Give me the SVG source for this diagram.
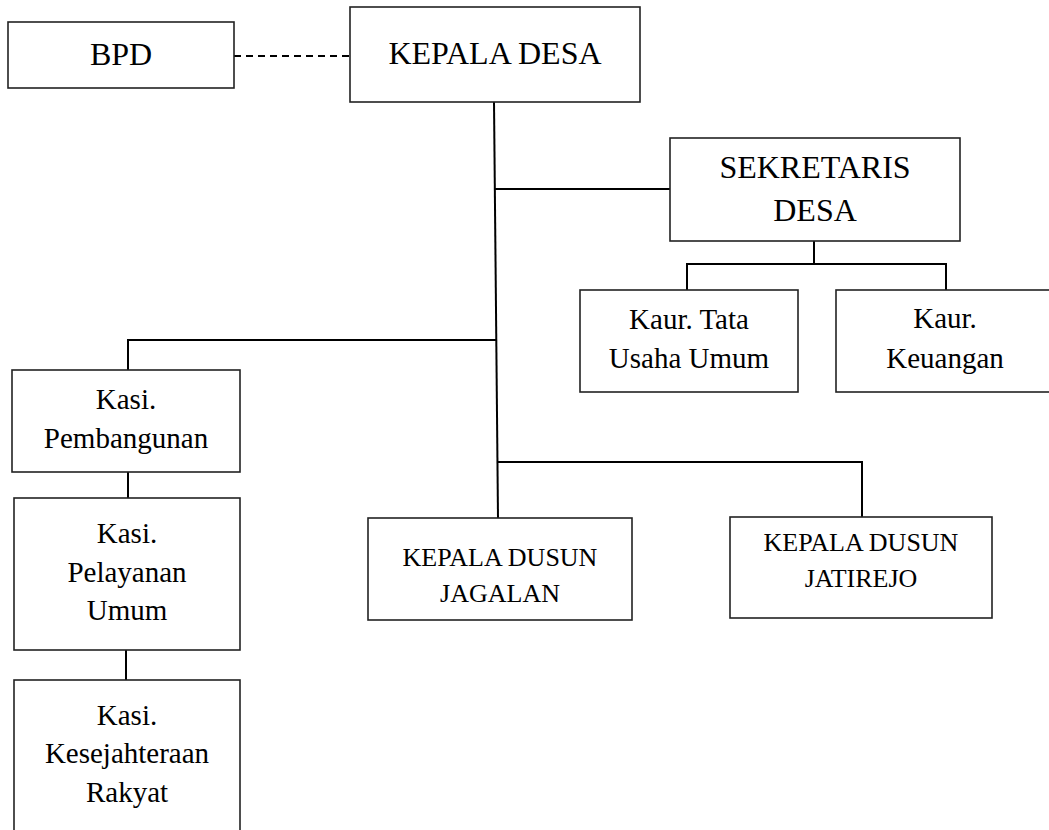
<svg xmlns="http://www.w3.org/2000/svg" width="1049" height="830" viewBox="0 0 1049 830">
<style>
.box{fill:#fff;stroke:#222;stroke-width:1.6}
.t{font-family:"Liberation Serif","Times New Roman",serif;fill:#000;text-anchor:middle}
.l{font-size:32px}
.m{font-size:29px}
.s{font-size:26px}
.c{stroke:#000;stroke-width:2;fill:none}
.d{stroke:#000;stroke-width:2;fill:none;stroke-dasharray:7 5}
</style>
<rect width="1049" height="830" fill="#fff"/>
<g id="connectors">
<line class="d" x1="234" y1="56" x2="350" y2="56"/>
<line class="c" x1="494" y1="102" x2="498" y2="518"/>
<line class="c" x1="495" y1="189" x2="670" y2="189"/>
<polyline class="c" points="814,241 814,264"/>
<polyline class="c" points="687,290 687,264 946,264 946,290"/>
<polyline class="c" points="128,370 128,340 497,340"/>
<line class="c" x1="128" y1="472" x2="128" y2="498"/>
<line class="c" x1="126" y1="650" x2="126" y2="680"/>
<polyline class="c" points="497,462 862,462 862,517"/>
</g>
<g id="bpd"><rect class="box" x="8" y="22" width="226" height="66"/><text class="t l" x="121" y="65">BPD</text></g>
<g id="kepala-desa"><rect class="box" x="350" y="7" width="290" height="95"/><text class="t l" x="495" y="64">KEPALA DESA</text></g>
<g id="sekretaris-desa"><rect class="box" x="670" y="138" width="290" height="103"/><text class="t l" x="815" y="178">SEKRETARIS</text><text class="t l" x="815" y="221">DESA</text></g>
<g id="kaur-tata-usaha"><rect class="box" x="580" y="290" width="218" height="102"/><text class="t m" x="689" y="329">Kaur. Tata</text><text class="t m" x="689" y="368">Usaha Umum</text></g>
<g id="kaur-keuangan"><rect class="box" x="836" y="290" width="230" height="102"/><text class="t m" x="945" y="328">Kaur.</text><text class="t m" x="945" y="368">Keuangan</text></g>
<g id="kasi-pembangunan"><rect class="box" x="12" y="370" width="228" height="102"/><text class="t m" x="126" y="409">Kasi.</text><text class="t m" x="126" y="448">Pembangunan</text></g>
<g id="kasi-pelayanan"><rect class="box" x="14" y="498" width="226" height="152"/><text class="t m" x="127" y="543">Kasi.</text><text class="t m" x="127" y="582">Pelayanan</text><text class="t m" x="127" y="620">Umum</text></g>
<g id="kasi-kesejahteraan"><rect class="box" x="14" y="680" width="226" height="170"/><text class="t m" x="127" y="725">Kasi.</text><text class="t m" x="127" y="763">Kesejahteraan</text><text class="t m" x="127" y="802">Rakyat</text></g>
<g id="kadus-jagalan"><rect class="box" x="368" y="518" width="264" height="102"/><text class="t s" x="500" y="566">KEPALA DUSUN</text><text class="t s" x="500" y="602">JAGALAN</text></g>
<g id="kadus-jatirejo"><rect class="box" x="730" y="517" width="262" height="101"/><text class="t s" x="861" y="551">KEPALA DUSUN</text><text class="t s" x="861" y="587">JATIREJO</text></g>
</svg>
